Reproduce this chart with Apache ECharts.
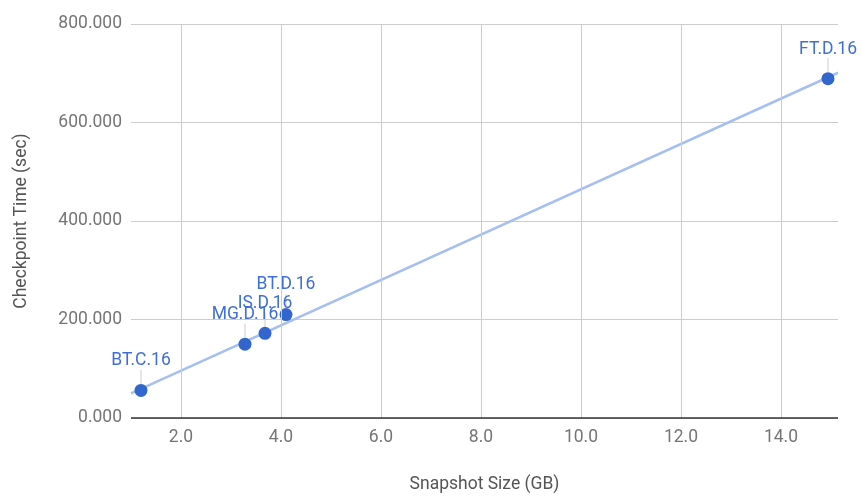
<!DOCTYPE html>
<html><head><meta charset="utf-8">
<script src="https://cdn.jsdelivr.net/npm/echarts@6/dist/echarts.min.js"></script>
<style>html,body{margin:0;padding:0;background:#fff;overflow:hidden}#c{width:861px;height:499px}</style>
</head><body><div id="c"></div>
<script>
const names = ['BT.C.16','MG.D.16','IS.D.16','BT.D.16','FT.D.16'];
const sizes = [1.2, 3.28, 3.68, 4.1, 14.94];
const times = [56, 150, 172, 210, 689];
const trendX = [1, 15.14];
const trendY = [50, 701];
const xTicks = [2,4,6,8,10,12,14];
const yTicks = [0,200,400,600,800];

const chart = echarts.init(document.getElementById('c'), null, {width:861, height:499});
const font = 'Roboto';
const fs = 17.5;
chart.setOption({
  animation:false,
  grid:{left:131,width:707,top:24,height:399,containLabel:false},
  xAxis:{type:'value',min:1,max:15.14,interval:1,
    name:'Snapshot Size (GB)',nameLocation:'middle',nameGap:58,
    nameTextStyle:{color:'#555',fontSize:fs,fontFamily:font},
    axisLine:{show:false},axisTick:{show:false},
    axisLabel:{color:'#757575',fontSize:fs,fontFamily:font,margin:11,showMinLabel:false,showMaxLabel:false,
      formatter:v=>xTicks.indexOf(v)>=0?v.toFixed(1):''},
    splitLine:{show:false}},
  yAxis:{type:'value',min:0,max:800,interval:200,
    name:'Checkpoint Time (sec)',nameLocation:'middle',nameGap:100,
    nameTextStyle:{color:'#555',fontSize:fs,fontFamily:font},
    axisLine:{show:false},axisTick:{show:false},
    axisLabel:{color:'#757575',fontSize:fs,fontFamily:font,margin:9,
      formatter:v=>yTicks.indexOf(v)>=0?v.toFixed(3):''},
    splitLine:{lineStyle:{color:'#ccc',width:1}}},
  series:[
    {type:'scatter',data:[],z:0,silent:true,
      markLine:{silent:true,symbol:'none',label:{show:false},animation:false,
        lineStyle:{color:'#ccc',width:1,type:'solid'},data:xTicks.map(v=>({xAxis:v}))}},
    {type:'line',data:trendX.map((x,i)=>[x,trendY[i]]),symbol:'none',z:2,
      lineStyle:{color:'#a6bfee',width:2.5},silent:true,
      markLine:{silent:true,symbol:'none',label:{show:false},
        lineStyle:{color:'#333',width:1.5,type:'solid'},data:[{yAxis:0}]}},
    {type:'scatter',data:sizes.map((x,i)=>[x,times[i],names[i]]),symbolSize:13,z:3,
      itemStyle:{color:'#3366cc',opacity:1},
      label:{show:true,position:'top',distance:0,color:'#3f6fd3',fontSize:fs,fontFamily:font,
        formatter:p=>p.data[2]},
      labelLayout:{dy:-14},
      labelLine:{show:true,lineStyle:{color:'#ccc',width:1}}}
  ]
});
</script></body></html>
